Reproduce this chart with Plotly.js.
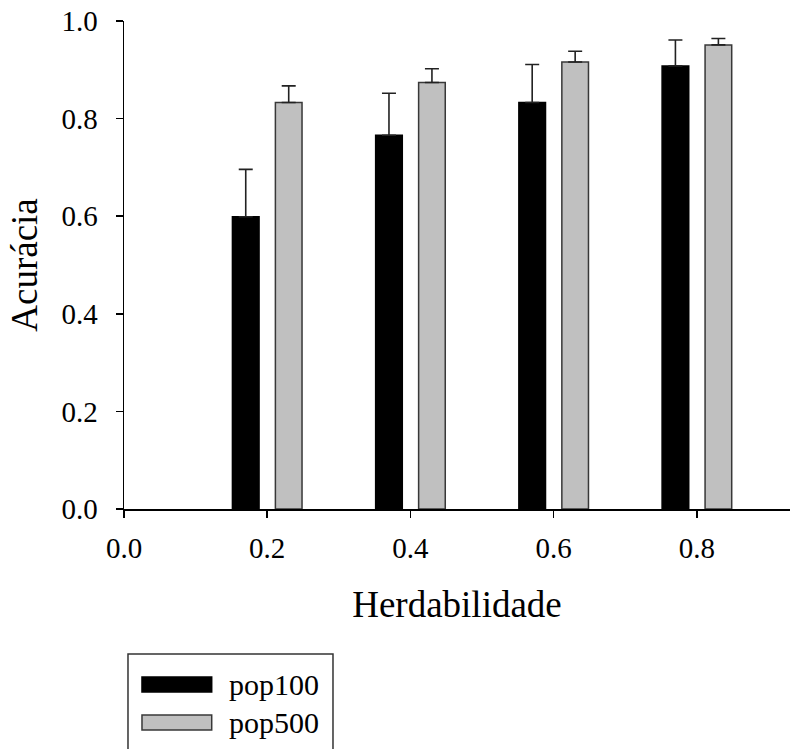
<!DOCTYPE html>
<html>
<head>
<meta charset="utf-8">
<script src="https://cdn.plot.ly/plotly-3.0.1.min.js"></script>
<style>html,body{margin:0;padding:0;background:#fff;}#chart{width:790px;height:749px;}</style>
</head>
<body>
<div id="chart"></div>
<script>
// Data
const heritability = [0.2, 0.4, 0.6, 0.8];
const seriesNames = ["pop100", "pop500"];
const pop100 = [0.599, 0.766, 0.833, 0.908];
const pop100Err = [0.097, 0.086, 0.078, 0.053];
const pop500 = [0.833, 0.874, 0.916, 0.951];
const pop500Err = [0.034, 0.028, 0.022, 0.013];
const noErr = [0, 0, 0, 0];
const xTickVals = [0.0, 0.2, 0.4, 0.6, 0.8];
const xTickText = ["0.0", "0.2", "0.4", "0.6", "0.8"];
const yTickVals = [0.0, 0.2, 0.4, 0.6, 0.8, 1.0];
const yTickText = ["0.0", "0.2", "0.4", "0.6", "0.8", "1.0"];

const FONT = "serif";
const colors = ["#000000", "#c0c0c0"];
const lineColors = ["#000000", "#383838"];

const traces = [
  {
    type: "bar", name: seriesNames[0], x: heritability, y: pop100,
    marker: {color: colors[0], line: {color: lineColors[0], width: 1.5}},
    error_y: {type: "data", symmetric: false, array: pop100Err, arrayminus: noErr,
              color: "#222222", thickness: 1.6, width: 7},
    showlegend: false, hoverinfo: "x+y"
  },
  {
    type: "bar", name: seriesNames[1], x: heritability, y: pop500,
    marker: {color: colors[1], line: {color: lineColors[1], width: 1.5}},
    error_y: {type: "data", symmetric: false, array: pop500Err, arrayminus: noErr,
              color: "#222222", thickness: 1.6, width: 7},
    showlegend: false, hoverinfo: "x+y"
  }
];

// Legend drawn as a box with wide swatches (paper coordinates)
const legY = [-0.3597, -0.4375];
const shapes = [
  {type: "rect", xref: "paper", yref: "paper", x0: 0.006, x1: 0.3138, y0: -0.2971, y1: -0.56,
   line: {color: "#333333", width: 1.5}, fillcolor: "rgba(0,0,0,0)"}
];
const annotations = [];
seriesNames.forEach((n, i) => {
  shapes.push({type: "rect", xref: "paper", yref: "paper", x0: 0.027, x1: 0.1317,
    y0: legY[i] - 0.0154, y1: legY[i] + 0.0154,
    line: {color: lineColors[i], width: 1.5}, fillcolor: colors[i]});
  annotations.push({xref: "paper", yref: "paper", x: 0.1547, y: legY[i], xanchor: "left", yanchor: "middle",
    text: n, showarrow: false, font: {family: FONT, size: 30, color: "#000"}});
});

const layout = {
  width: 790, height: 749,
  margin: {l: 124, r: 0, t: 21, b: 240, pad: 0},
  paper_bgcolor: "#ffffff", plot_bgcolor: "#ffffff",
  barmode: "group", bargap: 0.4, bargroupgap: 0.38,
  font: {family: FONT, color: "#000"},
  xaxis: {
    range: [0, 0.93], tickmode: "array", tickvals: xTickVals, ticktext: xTickText,
    showline: true, linecolor: "#000", linewidth: 1.5, showgrid: false, zeroline: false,
    ticks: "outside", ticklen: 7, tickwidth: 1.5, tickcolor: "#000",
    tickfont: {family: FONT, size: 29, color: "#000"}, ticklabelstandoff: 6,
    title: {text: "Herdabilidade", font: {family: FONT, size: 37, color: "#000"}, standoff: 28}
  },
  yaxis: {
    range: [0, 1.0], tickmode: "array", tickvals: yTickVals, ticktext: yTickText,
    showline: true, linecolor: "#000", linewidth: 1.5, showgrid: false, zeroline: false,
    ticks: "outside", ticklen: 7, tickwidth: 1.5, tickcolor: "#000",
    tickfont: {family: FONT, size: 29, color: "#000"}, ticklabelstandoff: 12,
    title: {text: "Acurácia", font: {family: FONT, size: 37, color: "#000"}, standoff: 12}
  },
  shapes: shapes,
  annotations: annotations,
  showlegend: false
};

Plotly.newPlot("chart", traces, layout, {displayModeBar: false, staticPlot: true});
</script>
</body>
</html>
